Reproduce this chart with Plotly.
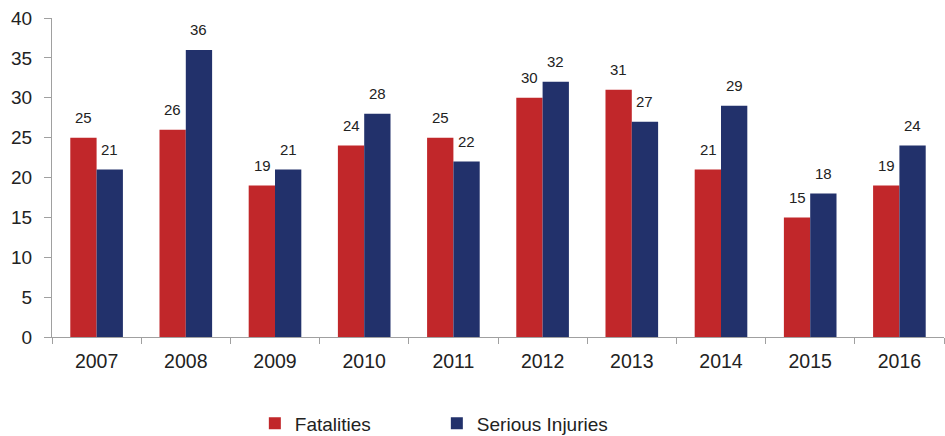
import plotly.graph_objects as go

years = ["2007", "2008", "2009", "2010", "2011", "2012", "2013", "2014", "2015", "2016"]
fatalities = [25, 26, 19, 24, 25, 30, 31, 21, 15, 19]
serious_injuries = [21, 36, 21, 28, 22, 32, 27, 29, 18, 24]

RED = "#C1272A"
BLUE = "#22316B"
FONT = "Liberation Sans, Arial, sans-serif"

fig = go.Figure()
fig.add_trace(go.Bar(x=years, y=fatalities, name="Fatalities", marker_color=RED,
                     marker_line_width=0))
fig.add_trace(go.Bar(x=years, y=serious_injuries, name="Serious Injuries",
                     marker_color=BLUE, marker_line_width=0))

# value labels floating above each bar (category index as x position)
for i, (f, s) in enumerate(zip(fatalities, serious_injuries)):
    for val, shift in ((f, -13), (s, 13)):
        fig.add_annotation(x=i, y=val, text=str(val), showarrow=False,
                           xshift=shift, yshift=20,
                           font=dict(family=FONT, size=15, color="#222"))

fig.update_layout(
    width=945, height=436,
    margin=dict(l=52, r=1, t=18, b=99, autoexpand=False),
    paper_bgcolor="white", plot_bgcolor="white",
    barmode="group", bargap=0.41, bargroupgap=0,
    font=dict(family=FONT, color="#222"),
    showlegend=True,
    legend=dict(orientation="h", x=0.2274, xanchor="left", y=-0.271, yanchor="middle",
                font=dict(family=FONT, size=19, color="#222"),
                entrywidth=137, entrywidthmode="pixels",
                itemsizing="constant"),
)
fig.update_xaxes(type="category", range=[-0.5, len(years) - 0.5],
                 tickson="boundaries", ticks="outside", ticklen=6, tickangle=0,
                 ticklabelstandoff=7,
                 tickcolor="#A0A0A0", showline=True, linecolor="#A0A0A0", linewidth=1,
                 tickfont=dict(family=FONT, size=19.5, color="#222"), showgrid=False)
fig.update_yaxes(range=[0, 40], dtick=5, ticks="outside", ticklen=7,
                 ticklabelstandoff=8,
                 tickcolor="#A0A0A0", showline=True, linecolor="#A0A0A0", linewidth=1,
                 tickfont=dict(family=FONT, size=19, color="#222"), showgrid=False,
                 zeroline=False)

fig.write_html("out.html")
